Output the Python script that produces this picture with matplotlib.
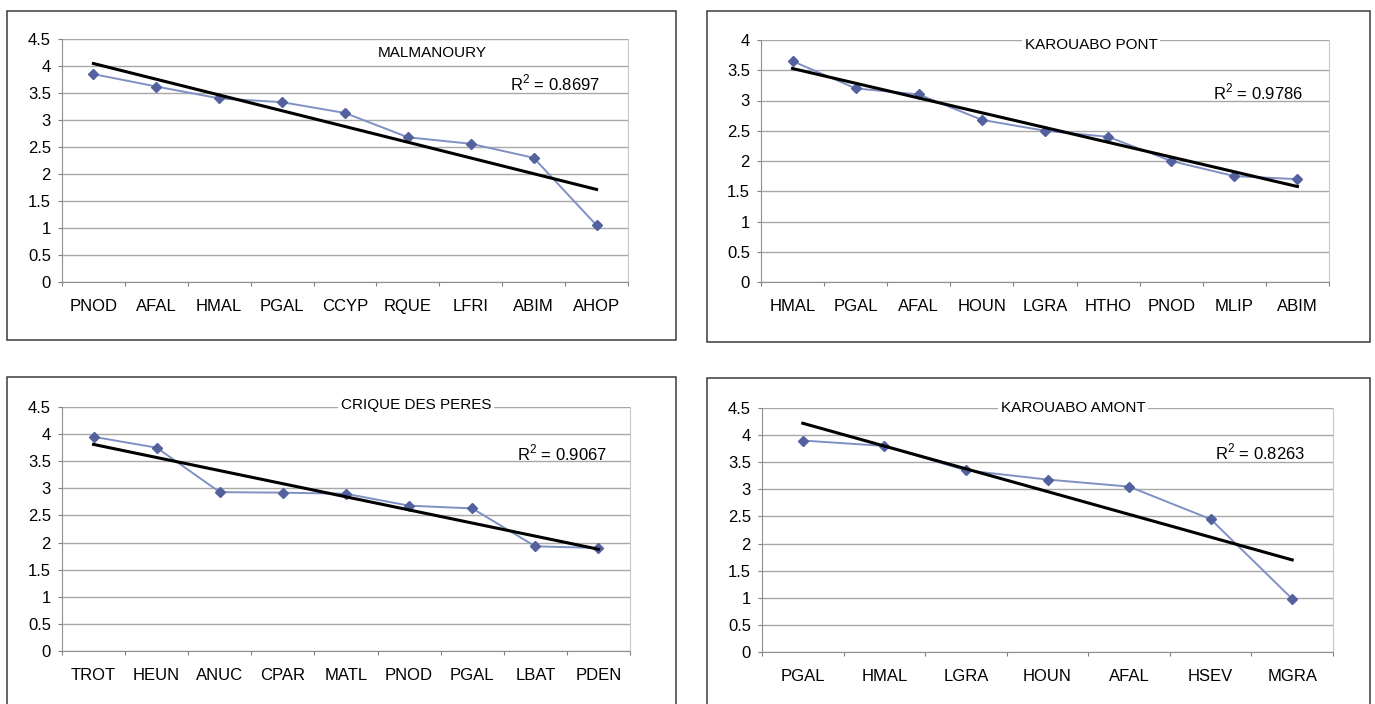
import matplotlib.pyplot as plt
import numpy as np
from matplotlib.patches import Rectangle
from matplotlib.ticker import FixedLocator, FormatStrFormatter

plt.rcParams['font.family'] = ['Liberation Sans', 'DejaVu Sans']
plt.rcParams['mathtext.fontset'] = 'custom'
plt.rcParams['mathtext.rm'] = 'Liberation Sans'

W, H = 1375, 704

# values (ranked index per station)
malmanoury_species = ["PNOD", "AFAL", "HMAL", "PGAL", "CCYP", "RQUE", "LFRI", "ABIM", "AHOP"]
malmanoury_values = [3.85, 3.62, 3.40, 3.33, 3.13, 2.68, 2.56, 2.30, 1.05]

pont_species = ["HMAL", "PGAL", "AFAL", "HOUN", "LGRA", "HTHO", "PNOD", "MLIP", "ABIM"]
pont_values = [3.65, 3.20, 3.10, 2.68, 2.50, 2.40, 2.00, 1.75, 1.70]

peres_species = ["TROT", "HEUN", "ANUC", "CPAR", "MATL", "PNOD", "PGAL", "LBAT", "PDEN"]
peres_values = [3.95, 3.75, 2.93, 2.92, 2.90, 2.68, 2.63, 1.93, 1.90]

amont_species = ["PGAL", "HMAL", "LGRA", "HOUN", "AFAL", "HSEV", "MGRA"]
amont_values = [3.90, 3.80, 3.35, 3.18, 3.05, 2.45, 0.98]

titles = ["MALMANOURY", "KAROUABO PONT", "CRIQUE DES PERES", "KAROUABO AMONT"]
r2_texts = ["0.8697", "0.9786", "0.9067", "0.8263"]
ymaxes = [4.5, 4.0, 4.5, 4.5]

LINE_C = "#8090c4"
MARK_C = "#53619f"
GRID_C = "#a8a8a8"
BOX_C = "#3a3a3a"


def fig_rect(l, t, r, b):
    return [l / W, 1 - b / H, (r - l) / W, (b - t) / H]


fig = plt.figure(figsize=(W / 100, H / 100), dpi=100)

# outer chart frames (pixels: left, top, right, bottom)
frames = [(7, 11, 676, 340), (707, 11, 1370, 342), (7, 377, 676, 710), (707, 378, 1370, 710)]
for l, t, r, b in frames:
    x0, y0, w, h = fig_rect(l, t, r, b)
    fig.patches.append(Rectangle((x0, y0), w, h, transform=fig.transFigure,
                                 fill=False, edgecolor=BOX_C, lw=1.1))

plots = [(62, 39, 628, 282), (761, 40, 1329, 282), (62, 407, 630, 651), (762, 408, 1333, 652)]
title_px = [(432, 53), (1091, 45), (416, 405), (1073, 408)]
r2_px = [(555, 83), (1258, 92), (562, 453), (1260, 452)]

series = [(malmanoury_species, malmanoury_values), (pont_species, pont_values),
          (peres_species, peres_values), (amont_species, amont_values)]

for i, (species, vals) in enumerate(series):
    l, t, r, b = plots[i]
    ax = fig.add_axes(fig_rect(l, t, r, b))
    n = len(species)
    x = np.arange(n)
    y = np.array(vals)

    ax.plot(x, y, color=LINE_C, lw=1.4, marker="D", ms=5, clip_on=False,
            mfc=MARK_C, mec=MARK_C, zorder=3)
    slope, icpt = np.polyfit(x, y, 1)
    ax.plot(x, slope * x + icpt, color="black", lw=2.2, zorder=4)

    ax.set_xlim(-0.5, n - 0.5)
    ax.set_ylim(0, ymaxes[i])
    ax.set_yticks(np.arange(0, ymaxes[i] + 0.01, 0.5))
    ax.yaxis.set_major_formatter(FormatStrFormatter("%g"))
    ax.yaxis.grid(True, color=GRID_C, lw=1.0)
    ax.set_axisbelow(True)

    ax.xaxis.set_major_locator(FixedLocator(np.arange(-0.5, n, 1.0)))
    ax.xaxis.set_minor_locator(FixedLocator(x))
    ax.set_xticklabels([])
    ax.set_xticklabels(species, minor=True)
    ax.tick_params(axis="x", which="major", length=3, color="#808080", direction="out")
    ax.tick_params(axis="x", which="minor", length=0, pad=12, labelsize=12)
    ax.tick_params(axis="y", length=3, color="#808080", pad=5, labelsize=12)

    ax.spines["top"].set_visible(False)
    for side in ("left", "bottom"):
        ax.spines[side].set_color("#909090")
    ax.spines["right"].set_color("#c8c8c8")

    tx, ty = title_px[i]
    ax.text((tx - l) / (r - l), (b - ty) / (b - t), titles[i], transform=ax.transAxes,
            ha="center", va="center", fontsize=11, zorder=5,
            bbox=dict(facecolor="white", edgecolor="none", pad=2))
    rx, ry = r2_px[i]
    ax.text((rx - l) / (r - l), (b - ry) / (b - t), r"R$^2$ = " + r2_texts[i],
            transform=ax.transAxes, ha="center", va="center", fontsize=12, zorder=5)

fig.savefig("out.png", dpi=100)
